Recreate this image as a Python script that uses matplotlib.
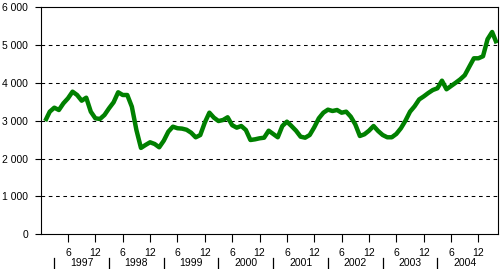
import matplotlib
matplotlib.use("Agg")
import matplotlib.pyplot as plt
import matplotlib.transforms as mtransforms
from matplotlib.lines import Line2D

plt.rcParams['font.family'] = ['Liberation Sans', 'DejaVu Sans']

# Monthly values, Jan 1997 onwards (index 0 = Jan 1997)
values = [
    2990, 3237, 3342, 3281, 3458, 3590, 3765, 3677, 3527, 3606, 3237, 3062,
    3044, 3150, 3326, 3485, 3749, 3677, 3677, 3369, 2753, 2280, 2358, 2429,
    2384, 2297, 2471, 2709, 2841, 2800, 2790, 2760, 2682, 2560, 2620, 2950,
    3210, 3078, 2990, 3017, 3089, 2880, 2815, 2859, 2753, 2489, 2507, 2534,
    2550, 2735, 2648, 2561, 2859, 2973, 2859, 2735, 2577, 2550, 2621, 2825,
    3062, 3210, 3290, 3255, 3281, 3210, 3237, 3105, 2900, 2595, 2640, 2735,
    2859, 2727, 2621, 2561, 2561, 2650, 2800, 3000, 3237, 3380, 3560, 3640,
    3730, 3809, 3854, 4055, 3828, 3915, 4000, 4090, 4200, 4425, 4646, 4646,
    4700, 5150, 5340, 5042,
]
years = ['1997', '1998', '1999', '2000', '2001', '2002', '2003', '2004']
month_labels = ['6', '12']
y_ticks = [0, 1000, 2000, 3000, 4000, 5000, 6000]
y_labels = ['0', '1 000', '2 000', '3 000', '4 000', '5 000', '6 000']

fig = plt.figure(figsize=(5.0, 2.69), dpi=100)
ax = fig.add_axes([41/500, 1 - 234.3/269, (497.3-40.7)/500, (234.3-7)/269])

x = list(range(len(values)))
ax.plot(x, values, color='#008000', linewidth=3.2, solid_joinstyle='round',
        solid_capstyle='butt', zorder=3)

ax.set_xlim(-0.92, 99.2)
ax.set_ylim(0, 6000)

ax.set_yticks(y_ticks)
ax.set_yticklabels(y_labels)
for yv in y_ticks[1:-1]:
    ax.axhline(yv, color='black', linewidth=0.75, linestyle=(0, (3.5, 3.5)), zorder=1)

xt = []
xl = []
for k in range(len(years)):
    xt += [5 + 12*k, 11 + 12*k]
    xl += month_labels
ax.set_xticks(xt)
ax.set_xticklabels(xl)

ax.tick_params(axis='x', direction='out', length=5.8, width=0.8, pad=4,
               labelsize=7.5, colors='black')
ax.tick_params(axis='y', direction='out', length=4.4, width=0.8, pad=5,
               labelsize=7.5, colors='black')
for s in ax.spines.values():
    s.set_linewidth(0.8)
    s.set_color('black')

trans = mtransforms.blended_transform_factory(ax.transData, ax.transAxes)
for k, yr in enumerate(years):
    ax.text(8 + 12*k, -0.127, yr, transform=trans, ha='center', va='center',
            fontsize=7.5)
    sx = 2 + 12*k
    ax.add_line(Line2D([sx, sx], [-0.104, -0.150], transform=trans,
                       color='black', linewidth=0.9, clip_on=False))

fig.savefig('out.png', dpi=100)
